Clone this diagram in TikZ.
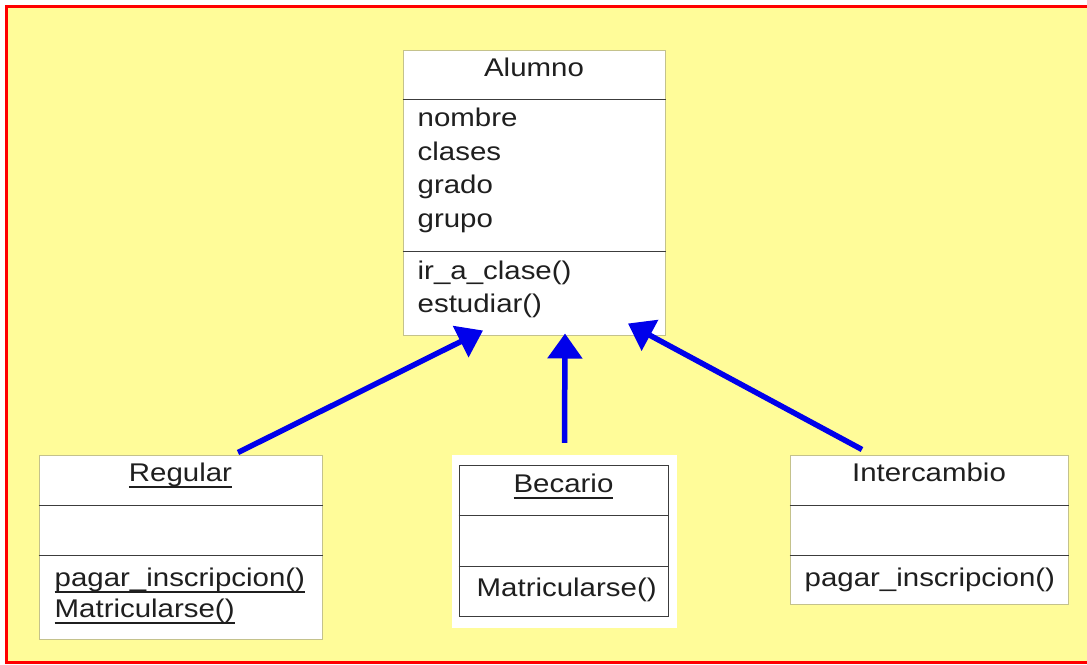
\documentclass[tikz,border=0pt]{standalone}
\usepackage{fontspec}
\setmainfont{Liberation Sans}
\newfontfamily\umlfont[FakeStretch=1.15]{Liberation Sans}
\usepackage{tikz}
\usetikzlibrary{arrows.meta, positioning, calc}
\definecolor{slidebg}{RGB}{255,252,153}
\definecolor{framered}{RGB}{255,0,0}
\definecolor{boxedge}{RGB}{196,194,140}
\definecolor{lineedge}{RGB}{60,60,60}
\definecolor{arrowblue}{RGB}{0,0,235}

% underline as drawn by the modelling tool
\newcommand{\umlul}[1]{\setbox0\hbox{#1}\rlap{\rule[-6pt]{\wd0}{1.6pt}}\box0}

\tikzset{
    classbox/.style={draw=boxedge, fill=white, line width=1pt, inner sep=0pt},
    divider/.style={draw=lineedge, line width=1.2pt},
    member/.style={font=\umlfont\fontsize{25.6}{30}\selectfont, inner sep=0pt, text=black!88},
    inherit/.style={draw=arrowblue, line width=5.5pt, -{Triangle[length=25pt,width=34pt]}}
}

\begin{document}
\begin{tikzpicture}[x=1pt, y=-1pt]
    \useasboundingbox (0,0) rectangle (1087,664);
    \fill[white] (0,0) rectangle (1087,664);
    \fill[slidebg] (6,6) rectangle (1087,662);
    \draw[framered, line width=3pt] (1087,6) -- (6,6) -- (6,662) -- (1087,662);

    % Superclass
    \node[classbox, minimum width=262, minimum height=285] (alumno) at (534,192.5) {};
    \draw[divider] ([yshift=-50pt]alumno.north west) -- ([yshift=-50pt]alumno.north east);
    \draw[divider] ([yshift=-202pt]alumno.north west) -- ([yshift=-202pt]alumno.north east);
    \node[member, anchor=base] (alumnoname) at ($(alumno.north)+(0,27)$) {Alumno};
    \foreach \attr [count=\i] in {nombre,clases,grado,grupo}
        \node[member, anchor=base west] (attr\i) at ($(alumno.north west)+(15,43.5+33.5*\i)$) {\attr};
    \node[member, anchor=base west] (op1) at ($(alumno.north west)+(15,230)$) {ir\_a\_clase()};
    \node[member, anchor=base west] (op2) at ($(alumno.north west)+(15,263)$) {estudiar()};

    % Regular
    \node[classbox, minimum width=283, minimum height=184] (regular) at (180.5,547) {};
    \draw[divider] ([yshift=-51pt]regular.north west) -- ([yshift=-51pt]regular.north east);
    \draw[divider] ([yshift=-101pt]regular.north west) -- ([yshift=-101pt]regular.north east);
    \node[member, anchor=base] (regularname) at ($(regular.north)+(0,27)$) {\umlul{Regular}};
    \node[member, anchor=base west] (regop1) at ($(regular.north west)+(16,132)$) {\umlul{pagar\_inscripcion()}};
    \node[member, anchor=base west] (regop2) at ($(regular.north west)+(16,163)$) {\umlul{Matricularse()}};

    % Becario (white backdrop)
    \node[fill=white, minimum width=225, minimum height=173, inner sep=0pt] (becariobg) at (564.5,541.5) {};
    \node[classbox, draw=lineedge, minimum width=209, minimum height=151] (becario) at (563.5,540.5) {};
    \draw[divider] ([yshift=-51pt]becario.north west) -- ([yshift=-51pt]becario.north east);
    \draw[divider] ([yshift=-102pt]becario.north west) -- ([yshift=-102pt]becario.north east);
    \node[member, anchor=base] (becarioname) at ($(becario.north)+(0,28)$) {\umlul{Becario}};
    \node[member, anchor=base west] (becop1) at ($(becario.north west)+(18,132)$) {Matricularse()};

    % Intercambio
    \node[classbox, minimum width=278, minimum height=149] (intercambio) at (929,529.5) {};
    \draw[divider] ([yshift=-51pt]intercambio.north west) -- ([yshift=-51pt]intercambio.north east);
    \draw[divider] ([yshift=-101pt]intercambio.north west) -- ([yshift=-101pt]intercambio.north east);
    \node[member, anchor=base] (intercambioname) at ($(intercambio.north)+(0,27)$) {Intercambio};
    \node[member, anchor=base west] (intop1) at ($(intercambio.north west)+(15,132)$) {pagar\_inscripcion()};

    % Inheritance arrows
    \draw[inherit] ([xshift=57.5pt, yshift=2pt]regular.north) -- ([xshift=-51pt, yshift=5pt]alumno.south);
    \draw[inherit] ([yshift=12pt]becariobg.north) -- ([xshift=31pt, yshift=2pt]alumno.south);
    \draw[inherit] ([xshift=-67pt, yshift=5pt]intercambio.north) -- ([xshift=94pt, yshift=12pt]alumno.south);
\end{tikzpicture}
\end{document}
